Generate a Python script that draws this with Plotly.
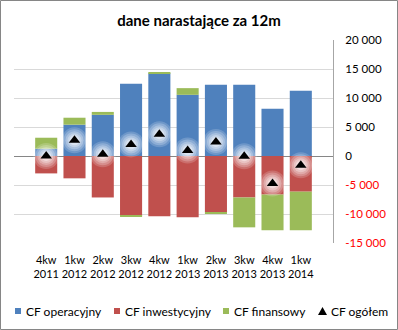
import plotly.graph_objects as go

categories = ["4kw<br>2011", "1kw<br>2012", "2kw<br>2012", "3kw<br>2012", "4kw<br>2012",
              "1kw<br>2013", "2kw<br>2013", "3kw<br>2013", "4kw<br>2013", "1kw<br>2014"]
cf_operacyjny = [1250, 5400, 7100, 12450, 14250, 10550, 12300, 12300, 8150, 11250]
cf_inwestycyjny = [-3000, -3850, -7150, -10250, -10400, -10550, -9700, -7150, -6650, -6150]
cf_finansowy = [1900, 1200, 500, -250, 200, 1150, -250, -5150, -6150, -6650]
cf_ogolem = [0, 2700, 300, 2000, 3750, 950, 2400, -50, -4750, -1600]

tick_vals = [-15000, -10000, -5000, 0, 5000, 10000, 15000, 20000]
tick_text = ["<span style='color:#FF0000'>-15 000</span>",
             "<span style='color:#FF0000'>-10 000</span>",
             "<span style='color:#FF0000'>-5 000</span>",
             "0", "5 000", "10 000", "15 000", "20 000"]

series_names = ["CF operacyjny", "CF inwestycyjny", "CF finansowy", "CF ogółem"]
series_colors = ["#4F81BD", "#C0504D", "#9BBB59", "#000000"]

W, H = 398, 330
L, R, T, B = 14, 65, 40, 87
pw, ph = W - L - R, H - T - B

font_family = "Lato, 'Open Sans', sans-serif"


def px_x(x):
    return (x - L) / pw


def px_y(y):
    return (H - B - y) / ph


fig = go.Figure()
for name, vals, col in zip(series_names[:3], [cf_operacyjny, cf_inwestycyjny, cf_finansowy],
                           series_colors[:3]):
    fig.add_trace(go.Bar(x=categories, y=vals, name=name,
                         marker=dict(color=col, line=dict(width=0))))
# soft glow behind the triangles (concentric translucent circles)
for size, op in [(26, 0.18), (22, 0.22), (18, 0.25), (14, 0.3), (10, 0.4)]:
    fig.add_trace(go.Scatter(x=categories, y=cf_ogolem, mode="markers", showlegend=False,
                             hoverinfo="skip",
                             marker=dict(symbol="circle", size=size, color="white",
                                         opacity=op, line=dict(width=0))))
fig.add_trace(go.Scatter(x=categories, y=cf_ogolem, mode="markers", name=series_names[3],
                         marker=dict(symbol="triangle-up", size=10, color="#000000",
                                     line=dict(width=0))))

# manual legend (compact, Excel-like)
legend_y = 311
sym_x = [15, 114, 223]
text_x = [24, 123, 232, 329]
shapes = [dict(type="rect", xref="paper", yref="paper",
               x0=(-L + 0.5) / pw, x1=1 + (R - 0.5) / pw,
               y0=(-B + 0.5) / ph, y1=1 + (T - 0.5) / ph,
               line=dict(color="#868686", width=1), fillcolor="rgba(0,0,0,0)", layer="below")]
for sx, col in zip(sym_x, series_colors[:3]):
    shapes.append(dict(type="rect", xref="paper", yref="paper",
                       x0=px_x(sx), x1=px_x(sx + 6), y0=px_y(legend_y + 3), y1=px_y(legend_y - 3),
                       line=dict(width=0), fillcolor=col))
shapes.append(dict(type="path", xref="paper", yref="paper",
                   path="M {} {} L {} {} L {} {} Z".format(px_x(318), px_y(legend_y + 4),
                                                         px_x(327), px_y(legend_y + 4),
                                                         px_x(322.5), px_y(legend_y - 4)),
                   line=dict(width=0), fillcolor="#000000"))
annotations = []
for tx, name in zip(text_x, series_names):
    annotations.append(dict(text=name, xref="paper", yref="paper", x=px_x(tx), y=px_y(legend_y),
                            xanchor="left", yanchor="middle", showarrow=False,
                            font=dict(size=12, family=font_family, color="#000000")))

fig.update_layout(
    width=W, height=H,
    margin=dict(l=L, r=R, t=T, b=B),
    paper_bgcolor="white", plot_bgcolor="white",
    barmode="relative", bargap=0.22,
    font=dict(family=font_family, size=12, color="#000000"),
    title=dict(text="<b>dane narastające za 12m</b>", x=0.5, xref="container", xanchor="center",
               y=1 - 21 / H, yref="container", yanchor="middle",
               font=dict(size=15, family=font_family)),
    showlegend=False,
    xaxis=dict(type="category", showgrid=False, showline=False, ticks="", tickangle=0,
               tickfont=dict(size=11), ticklabelstandoff=9, fixedrange=True),
    yaxis=dict(side="right", range=[-15000, 20000], tickvals=tick_vals, ticktext=tick_text,
               showgrid=True, gridcolor="#D9D9D9", gridwidth=1,
               zeroline=True, zerolinecolor="#868686", zerolinewidth=1,
               showline=True, linecolor="#A6A6A6", linewidth=1, ticks="",
               tickfont=dict(size=11.5), ticklabelstandoff=9, fixedrange=True),
    shapes=shapes,
    annotations=annotations,
)

fig.write_html("out.html")
